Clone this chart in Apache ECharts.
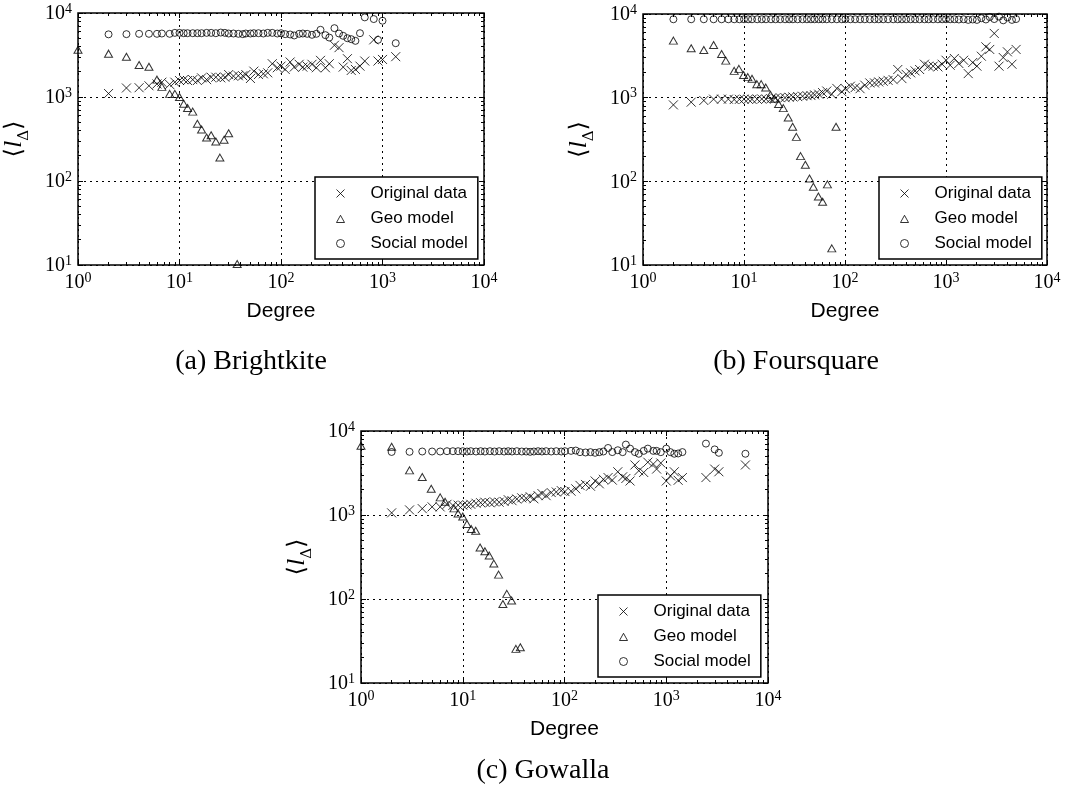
<!DOCTYPE html>
<html>
<head>
<meta charset="utf-8">
<script src="https://cdn.jsdelivr.net/npm/echarts@6/dist/echarts.min.js"></script>
<style>
  html, body { margin: 0; padding: 0; background: #fff; }
  #chart { width: 1082px; height: 805px; }
</style>
</head>
<body>
<div id="chart"></div>
<script>
// (a) Brightkite
const bkDegree = [2, 3, 4, 5, 6, 6.7, 8, 9, 10, 11, 12, 13.5, 15, 16.5, 18.5, 20.5, 22.8, 25.5, 28, 30.5, 34, 38, 42, 45, 50, 54, 60, 67, 74, 82, 92, 100, 110, 123, 135, 151, 164, 181, 202, 223, 245, 274, 299, 336, 373, 410, 451, 492, 541, 600, 669, 820, 903, 1000, 1350];
const bkOriginal = [1100, 1280, 1290, 1360, 1430, 1500, 1410, 1500, 1570, 1610, 1570, 1610, 1570, 1690, 1610, 1720, 1720, 1690, 1720, 1850, 1770, 1790, 1790, 1850, 1660, 2030, 1850, 1890, 1940, 2490, 2230, 2330, 2130, 2610, 2270, 2450, 2270, 2330, 2450, 2230, 2730, 2230, 2490, 4130, 3870, 2270, 2860, 2070, 2130, 2330, 2680, 4790, 2680, 2800, 3020];
const bkSocial = [5570, 5600, 5650, 5650, 5650, 5700, 5650, 5800, 5800, 5750, 5750, 5750, 5750, 5750, 5800, 5800, 5750, 5850, 5800, 5700, 5700, 5650, 5600, 5700, 5700, 5750, 5750, 5700, 5800, 5800, 5700, 5750, 5600, 5550, 5400, 5650, 5700, 5650, 5500, 5650, 6310, 5450, 5100, 6600, 5700, 5350, 5010, 4880, 4660, 5750, 8870, 8470, 4790, 8090, 4370];
const bkGeoDegree = [1, 2, 3, 4, 5, 6, 6.7, 8, 9, 10, 11, 12, 13.5, 15, 16.5, 18.5, 20.5, 22.8, 25, 27.5, 30.5, 37];
const bkGeo = [3650, 3280, 3020, 2400, 2290, 1610, 1320, 1090, 1090, 1000, 830, 740, 670, 480, 410, 330, 350, 295, 190, 310, 370, 10.3];

// (b) Foursquare
const fsDegree = [2, 3, 4, 5, 6, 7, 8, 9, 10, 11, 12, 13.5, 15, 16.5, 18.5, 20.5, 22.8, 25.5, 28, 30.5, 34, 38, 42, 46, 50, 55, 60, 66, 74, 83, 93, 101, 113, 126, 141, 157, 176, 196, 216, 239, 267, 300, 333, 366, 403, 447, 494, 548, 612, 673, 746, 832, 916, 1000, 1100, 1210, 1340, 1496, 1660, 1837, 2023, 2239, 2482, 2710, 3005, 3350, 3688, 4055, 4498, 4943];
const fsOriginal = [820, 884, 925, 960, 960, 960, 950, 955, 960, 960, 955, 960, 965, 960, 970, 990, 1000, 1000, 1010, 1020, 1030, 1040, 1057, 1060, 1080, 1100, 1150, 1200, 1100, 1290, 1180, 1280, 1370, 1320, 1280, 1410, 1500, 1500, 1540, 1570, 1610, 1640, 2170, 1690, 1900, 1980, 2090, 2170, 2510, 2380, 2380, 2330, 2510, 2800, 2440, 2940, 2560, 2800, 1940, 2630, 2380, 3130, 4050, 3770, 5860, 2380, 3020, 3530, 2510, 3770];
const fsSocial = [8650, 8650, 8650, 8650, 8650, 8650, 8650, 8650, 8650, 8650, 8650, 8650, 8650, 8650, 8650, 8650, 8650, 8650, 8650, 8650, 8650, 8650, 8650, 8650, 8650, 8650, 8650, 8650, 8650, 8650, 8650, 8650, 8650, 8650, 8650, 8650, 8650, 8650, 8650, 8650, 8650, 8650, 8650, 8650, 8650, 8650, 8650, 8650, 8650, 8650, 8650, 8650, 8650, 8650, 8650, 8650, 8600, 8650, 8500, 8600, 8500, 8900, 8600, 9200, 8700, 9300, 8400, 9100, 8500, 8700];
const fsGeoDegree = [2, 3, 4, 5, 6, 6.6, 8, 8.9, 9.9, 10.9, 12, 13.4, 14.8, 16.4, 18.3, 20, 22, 24.5, 27.4, 30.3, 33, 36.3, 40.5, 44.5, 48.6, 54.5, 60, 67, 74, 81.5];
const fsGeo = [4810, 3890, 3720, 4270, 3330, 2770, 2090, 2210, 1870, 1760, 1680, 1450, 1450, 1320, 1080, 970, 840, 750, 580, 450, 340, 200, 158, 108, 86, 66, 57, 92, 15.8, 450];

// (c) Gowalla
const gwDegree = [2, 3, 4, 5, 6, 7, 8, 9, 10, 11, 12, 13.5, 15, 16.5, 18.5, 20.5, 22.8, 25.5, 28, 30.5, 34, 38, 42, 46, 50, 55, 60, 66, 74, 83, 93, 101, 116, 129, 142, 161, 180, 200, 220, 241, 268, 295, 334, 373, 401, 441, 492, 537, 600, 659, 746, 804, 884, 1000, 1100, 1200, 1309, 1441, 2455, 2992, 3289, 5998];
const gwOriginal = [1060, 1150, 1190, 1250, 1250, 1340, 1300, 1310, 1310, 1320, 1340, 1380, 1400, 1420, 1400, 1430, 1420, 1450, 1520, 1480, 1550, 1600, 1580, 1650, 1560, 1700, 1800, 1700, 1850, 1880, 1950, 1900, 1920, 2050, 2250, 2310, 2200, 2540, 2350, 2660, 2790, 2600, 3270, 2850, 2720, 2540, 3940, 3360, 3210, 4250, 4050, 3520, 4160, 2540, 2920, 3270, 2590, 2790, 2790, 3520, 3270, 3940];
const gwSocial = [5630, 5650, 5700, 5700, 5700, 5750, 5750, 5750, 5750, 5700, 5750, 5700, 5750, 5700, 5750, 5700, 5750, 5700, 5750, 5700, 5750, 5700, 5700, 5650, 5700, 5750, 5700, 5750, 5700, 5750, 5700, 5750, 5800, 5850, 5600, 5550, 5600, 5500, 5600, 5700, 6280, 5610, 5900, 5600, 6890, 6170, 5610, 5360, 5800, 6170, 5800, 5800, 5600, 6170, 5600, 5360, 5400, 5610, 7080, 6040, 5500, 5360];
const gwGeoDegree = [1, 2, 3, 4, 4.9, 6, 6.7, 8.2, 9, 10, 11, 12.1, 13.4, 14.8, 16.5, 18.2, 20.2, 22.5, 24.8, 27.1, 30.2, 33.3, 36.8];
const gwGeo = [6670, 6490, 3400, 2830, 2050, 1620, 1440, 1200, 1040, 960, 780, 680, 650, 410, 370, 330, 264, 195, 87, 115, 96, 25.5, 26.7];

const seriesNames = ['Original data', 'Geo model', 'Social model'];
const captions = ['(a) Brightkite', '(b) Foursquare', '(c) Gowalla'];
const minorTicks = [2, 3, 4, 5, 6, 7, 8, 9, 20, 30, 40, 50, 60, 70, 80, 90, 200, 300, 400, 500, 600, 700, 800, 900, 2000, 3000, 4000, 5000, 6000, 7000, 8000, 9000];

const black = '#000';
const serif = 'Liberation Serif';
const sans = 'Liberation Sans';
const crossIcon = 'path://M0,0L10,10M10,0L0,10';
const triIcon = 'path://M5,0L10,9L0,9Z';
// legend versions keep the full 50x8 icon box so the marker sits in its middle
const crossLegend = 'path://M0,0M50,8M21,0L29,8M29,0L21,8';
const triLegend = 'path://M0,0M50,8M21,8L25,0.8L29,8Z';

function zip(xs, ys) {
    return xs.map((x, i) => [x, ys[i]]);
}

const panels = [
    { grid: { left: 78, top: 13, width: 406, height: 252 }, legend: [315, 177], caption: [251, 362],
      orig: zip(bkDegree, bkOriginal), geo: zip(bkGeoDegree, bkGeo), social: zip(bkDegree, bkSocial) },
    { grid: { left: 643, top: 14, width: 404, height: 251 }, legend: [879, 177], caption: [796, 362],
      orig: zip(fsDegree, fsOriginal), geo: zip(fsGeoDegree, fsGeo), social: zip(fsDegree, fsSocial) },
    { grid: { left: 361, top: 431, width: 407, height: 252 }, legend: [598, 595], caption: [543, 771],
      orig: zip(gwDegree, gwOriginal), geo: zip(gwGeoDegree, gwGeo), social: zip(gwDegree, gwSocial) }
];

const powRich = {
    b: { fontFamily: serif, fontSize: 20, color: black, verticalAlign: 'bottom' },
    s: { fontFamily: serif, fontSize: 14, color: black, verticalAlign: 'bottom', padding: [0, 0, 8, 0] }
};
function powLabel(v) {
    return '{b|10}{s|' + Math.round(Math.log10(v)) + '}';
}

const tickStyle = { color: black, width: 1 };

function logAxis(k, pos, min, main) {
    return {
        type: 'log', logBase: 10, min: min, max: 10000, gridIndex: k, position: pos,
        axisLine: { show: false, onZero: false },
        axisTick: { show: true, inside: true, length: 5, lineStyle: tickStyle },
        axisLabel: { show: main, margin: 6, formatter: powLabel, rich: powRich },
        splitLine: { show: main, lineStyle: { color: black, width: 1, type: [2, 4] } }
    };
}
// minor ticks drawn on a plain value axis over log10 of the degree range
function minorAxis(k, pos, min) {
    return {
        type: 'value', min: Math.log10(min), max: 4, gridIndex: k, position: pos,
        axisLine: { show: false, onZero: false },
        axisTick: { show: true, inside: true, length: 3, lineStyle: tickStyle,
            customValues: minorTicks.filter(v => v > min).map(v => Math.log10(v)) },
        axisLabel: { show: false },
        splitLine: { show: false }
    };
}

const grid = [], xAxis = [], yAxis = [], series = [], legend = [], graphic = [];

panels.forEach((p, k) => {
    grid.push(Object.assign({ show: true, borderColor: black, borderWidth: 1.5, backgroundColor: 'transparent',
        outerBoundsMode: 'none' }, p.grid));

    const xMain = logAxis(k, 'bottom', 1, true);
    xMain.name = 'Degree';
    xMain.nameLocation = 'middle';
    xMain.nameGap = 36;
    xMain.nameTextStyle = { fontFamily: sans, fontSize: 21, color: black };
    xAxis.push(xMain, logAxis(k, 'top', 1, false), minorAxis(k, 'bottom', 1), minorAxis(k, 'top', 1));

    const yMain = logAxis(k, 'left', 10, true);
    yMain.name = '{br|⟨}{it|l}{sub|Δ}{br|⟩}';
    yMain.nameLocation = 'middle';
    yMain.nameGap = 46;
    yMain.nameTextStyle = { rich: {
        br: { fontFamily: 'DejaVu Serif', fontSize: 24, color: black, verticalAlign: 'bottom', padding: [0, 0, 5, 0] },
        it: { fontFamily: serif, fontStyle: 'italic', fontSize: 26, color: black, verticalAlign: 'bottom', padding: [0, 0, 5, 0] },
        sub: { fontFamily: 'DejaVu Serif', fontSize: 15, color: black, verticalAlign: 'bottom' }
    } };
    yAxis.push(yMain, logAxis(k, 'right', 10, false), minorAxis(k, 'left', 10), minorAxis(k, 'right', 10));

    const idx = 4 * k;
    const hollow = { color: 'rgba(0,0,0,0)', borderColor: black, borderWidth: 1 };
    series.push(
        { type: 'scatter', name: seriesNames[0], data: p.orig, xAxisIndex: idx, yAxisIndex: idx,
          symbol: crossIcon, symbolSize: 9, itemStyle: hollow, silent: true },
        { type: 'scatter', name: seriesNames[1], data: p.geo, xAxisIndex: idx, yAxisIndex: idx,
          symbol: triIcon, symbolSize: [8, 7], itemStyle: hollow, silent: true },
        { type: 'scatter', name: seriesNames[2], data: p.social, xAxisIndex: idx, yAxisIndex: idx,
          symbol: 'circle', symbolSize: 7, itemStyle: hollow, silent: true }
    );

    legend.push({
        orient: 'vertical', left: p.legend[0], top: p.legend[1],
        data: [
            { name: seriesNames[0], icon: crossLegend },
            { name: seriesNames[1], icon: triLegend },
            { name: seriesNames[2] }
        ],
        itemWidth: 50, itemHeight: 8, itemGap: 8, padding: [8, 10, 7, 0],
        backgroundColor: '#fff', borderColor: black, borderWidth: 1.5, borderRadius: 0,
        textStyle: { fontFamily: sans, fontSize: 17, lineHeight: 17, color: black },
        itemStyle: { color: 'rgba(0,0,0,0)', borderColor: black, borderWidth: 1 },
        selectedMode: false
    });

    graphic.push({
        type: 'text', x: p.caption[0], y: p.caption[1],
        style: { text: captions[k], fontFamily: serif, fontSize: 28, fill: black, align: 'center', verticalAlign: 'middle' }
    });
});

const chart = echarts.init(document.getElementById('chart'));
chart.setOption({
    backgroundColor: '#fff',
    animation: false,
    grid: grid,
    xAxis: xAxis,
    yAxis: yAxis,
    legend: legend,
    graphic: graphic,
    series: series
});
</script>
</body>
</html>
